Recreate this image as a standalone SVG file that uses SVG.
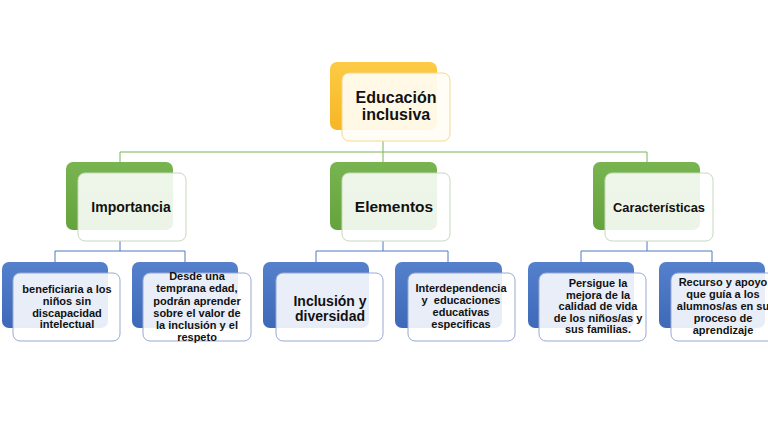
<svg xmlns="http://www.w3.org/2000/svg" width="768" height="433" viewBox="0 0 768 433">
<defs>
<linearGradient id="gOr" x1="0" y1="0" x2="0" y2="1"><stop offset="0" stop-color="#FCCB45"/><stop offset="1" stop-color="#F7B625"/></linearGradient>
<linearGradient id="gGr" x1="0" y1="0" x2="0" y2="1"><stop offset="0" stop-color="#78B450"/><stop offset="1" stop-color="#65A33D"/></linearGradient>
<linearGradient id="gBl" x1="0" y1="0" x2="0" y2="1"><stop offset="0" stop-color="#5580CC"/><stop offset="1" stop-color="#3E69B8"/></linearGradient>
</defs>
<style>
.bo{fill:url(#gOr)}
.bg{fill:url(#gGr)}
.bb{fill:url(#gBl)}
.fo{fill:#FFFDF5;fill-opacity:0.92;stroke:#F3D98E;stroke-width:1}
.fg{fill:#FFFFFF;fill-opacity:0.88;stroke:#C7D8BC;stroke-width:1}
.fb{fill:#FFFFFF;fill-opacity:0.88;stroke:#97A9D3;stroke-width:1}
.lg{stroke:#7DB35A;stroke-width:1;fill:none}
.lb{stroke:#4F78C4;stroke-width:1;fill:none}
text{font-family:"Liberation Sans",Arial,sans-serif;font-weight:bold;fill:#111;text-anchor:middle}
.t1{font-size:16px}
.t2{font-size:14px}
.t3{font-size:11px}
.t4{font-size:14px}
</style>
<rect width="768" height="433" fill="#FFFFFF"/>
<g id="connectors">
<path class="lg" d="M383,141V152M120,152H647M120,152V162M383,152V162M647,152V162"/>
<path class="lb" d="M120,241V251M55,251H185M55,251V262M185,251V262"/>
<path class="lb" d="M383,241V251M316,251H448M316,251V262M448,251V262"/>
<path class="lb" d="M647,241V251M581,251H712M581,251V262M712,251V262"/>
</g>
<g id="n-educacion">
<rect class="bo" x="330" y="62" width="107" height="68" rx="7"/>
<rect class="fo" x="342" y="73" width="108" height="68" rx="7"/>
<text class="t1" x="396" y="103">Educación</text>
<text class="t1" x="396" y="120">inclusiva</text>
</g>
<g id="n-importancia">
<rect class="bg" x="66" y="162" width="107" height="68" rx="7"/>
<rect class="fg" x="78" y="173" width="108" height="68" rx="7"/>
<text class="t2" x="131" y="212">Importancia</text>
</g>
<g id="n-elementos">
<rect class="bg" x="330" y="162" width="107" height="68" rx="7"/>
<rect class="fg" x="342" y="173" width="108" height="68" rx="7"/>
<text class="t2" x="394" y="212" style="font-size:15.5px">Elementos</text>
</g>
<g id="n-caracteristicas">
<rect class="bg" x="593" y="162" width="107" height="68" rx="7"/>
<rect class="fg" x="605" y="173" width="108" height="68" rx="7"/>
<text class="t2" x="659" y="212" style="font-size:12.5px" textLength="92" lengthAdjust="spacingAndGlyphs">Características</text>
</g>
<g id="n-beneficiaria">
<rect class="bb" x="2" y="262" width="106" height="66" rx="7"/>
<rect class="fb" x="13" y="273" width="107" height="68" rx="7"/>
<text class="t3" x="67" y="293">beneficiaria a los</text>
<text class="t3" x="67" y="305">niños sin</text>
<text class="t3" x="67" y="317">discapacidad</text>
<text class="t3" x="67" y="328">intelectual</text>
</g>
<g id="n-desde">
<rect class="bb" x="132" y="262" width="106" height="66" rx="7"/>
<rect class="fb" x="143" y="273" width="108" height="68" rx="7"/>
<text class="t3" x="197" y="280">Desde una</text>
<text class="t3" x="197" y="292">temprana edad,</text>
<text class="t3" x="197" y="304.5">podrán aprender</text>
<text class="t3" x="197" y="316.5">sobre el valor de</text>
<text class="t3" x="197" y="329">la inclusión y el</text>
<text class="t3" x="197" y="341">respeto</text>
</g>
<g id="n-inclusion">
<rect class="bb" x="263" y="262" width="106" height="66" rx="7"/>
<rect class="fb" x="276" y="273" width="107" height="68" rx="7"/>
<text class="t4" x="330" y="306">Inclusión y</text>
<text class="t4" x="330" y="321">diversidad</text>
</g>
<g id="n-interdependencia">
<rect class="bb" x="395" y="262" width="107" height="66" rx="7"/>
<rect class="fb" x="408" y="273" width="107" height="68" rx="7"/>
<text class="t3" x="461" y="292">Interdependencia</text>
<text class="t3" x="461" y="304" xml:space="preserve">y  educaciones</text>
<text class="t3" x="461" y="316">educativas</text>
<text class="t3" x="461" y="328">especificas</text>
</g>
<g id="n-persigue">
<rect class="bb" x="528" y="262" width="106" height="66" rx="7"/>
<rect class="fb" x="539" y="273" width="107" height="68" rx="7"/>
<text class="t3" x="598" y="287">Persigue la</text>
<text class="t3" x="598" y="298.5">mejora de la</text>
<text class="t3" x="598" y="310">calidad de vida</text>
<text class="t3" x="598" y="321.5">de los niños/as y</text>
<text class="t3" x="598" y="333">sus familias.</text>
</g>
<g id="n-recurso">
<rect class="bb" x="659" y="262" width="106" height="66" rx="7"/>
<rect class="fb" x="671" y="273" width="107" height="68" rx="7"/>
<text class="t3" x="723" y="286">Recurso y apoyo</text>
<text class="t3" x="723" y="297.5">que guía a los</text>
<text class="t3" x="723" y="310">alumnos/as en su</text>
<text class="t3" x="723" y="322">proceso de</text>
<text class="t3" x="723" y="334">aprendizaje</text>
</g>
</svg>
